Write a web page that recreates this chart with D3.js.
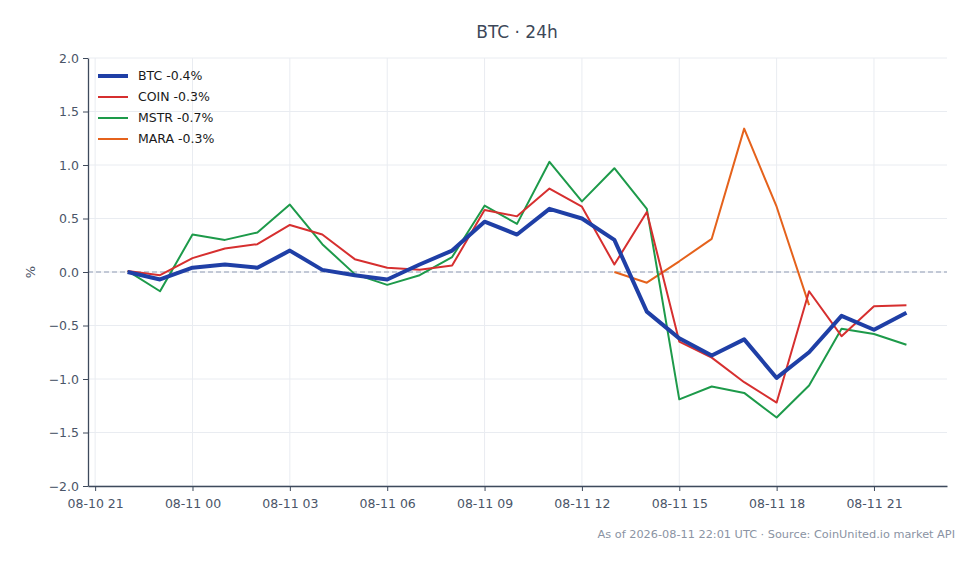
<!DOCTYPE html>
<html>
<head>
<meta charset="utf-8">
<script src="https://cdn.jsdelivr.net/npm/d3@7"></script>
<style>
  body { margin: 0; background: #fff; }
  svg { font-family: "DejaVu Sans", sans-serif; }
</style>
</head>
<body>
<div id="chart"></div>
<script>
// hourly points, 08-10 22:00 .. 08-11 22:00 UTC
var startHour = Date.UTC(2026, 7, 10, 22);
var hoursBTC = d3.range(25);
var btcVals = [0.0, -0.07, 0.04, 0.07, 0.04, 0.2, 0.02, -0.03, -0.07, 0.07, 0.2, 0.47, 0.35,
  0.59, 0.5, 0.3, -0.37, -0.62, -0.78, -0.63, -0.99, -0.75, -0.41, -0.54, -0.38];
var coinVals = [0.01, -0.03, 0.13, 0.22, 0.26, 0.44, 0.35, 0.12, 0.04, 0.02, 0.06, 0.58, 0.52,
  0.78, 0.61, 0.07, 0.56, -0.65, -0.8, -1.03, -1.22, -0.18, -0.6, -0.32, -0.31];
var mstrVals = [0.01, -0.18, 0.35, 0.3, 0.37, 0.63, 0.26, -0.02, -0.12, -0.03, 0.14, 0.62, 0.45,
  1.03, 0.66, 0.97, 0.59, -1.19, -1.07, -1.13, -1.36, -1.06, -0.53, -0.58, -0.68];
// MARA only trades 13:00 .. 19:00
var maraHours = [15, 16, 17, 18, 19, 20, 21];
var maraVals = [0.0, -0.1, 0.1, 0.31, 1.34, 0.61, -0.31];

var seriesNames = ['BTC -0.4%', 'COIN -0.3%', 'MSTR -0.7%', 'MARA -0.3%'];
var seriesColors = ['#1f3fa6', '#d62f2f', '#1d9a4a', '#e5621c'];
var seriesWidths = [4, 2, 2, 2];
var yTicks = [-2, -1.5, -1, -0.5, 0, 0.5, 1, 1.5, 2];

var w = 979,
h = 564,
m = { top: 58, right: 32, bottom: 78, left: 88 };

var toDate = function (k) { return new Date(startHour + k * 3600e3); };

var series = [
  hoursBTC.map((k, i) => ({ t: toDate(k), v: btcVals[i] })),
  hoursBTC.map((k, i) => ({ t: toDate(k), v: coinVals[i] })),
  hoursBTC.map((k, i) => ({ t: toDate(k), v: mstrVals[i] })),
  maraHours.map((k, i) => ({ t: toDate(k), v: maraVals[i] }))
];

var svg = d3.
select('#chart').
append('svg').
attr('width', w).
attr('height', h);

var x = d3.
scaleUtc().
domain([new Date(startHour - 1.22 * 3600e3), new Date(startHour + 25.25 * 3600e3)]).
range([m.left, w - m.right]);

var y = d3.
scaleLinear().
domain([-2, 2]).
range([h - m.bottom, m.top]);

var xTicks = d3.range(9).map(i => new Date(startHour + (i * 3 - 1) * 3600e3));

// grid
svg.append('g').
selectAll('line').
data(xTicks).
enter().
append('line').
attr('x1', d => x(d)).
attr('x2', d => x(d)).
attr('y1', m.top).
attr('y2', h - m.bottom).
attr('stroke', '#e9ecf1');

svg.append('g').
selectAll('line').
data(yTicks).
enter().
append('line').
attr('x1', m.left).
attr('x2', w - m.right).
attr('y1', d => y(d)).
attr('y2', d => y(d)).
attr('stroke', '#e9ecf1');

// zero line
svg.append('line').
attr('x1', m.left).
attr('x2', w - m.right).
attr('y1', y(0)).
attr('y2', y(0)).
attr('stroke', '#8f9cb3').
attr('stroke-width', 1.2).
attr('stroke-dasharray', '5,3');

// axes
var fmt = d3.utcFormat('%m-%d %H');
var xAxis = svg.append('g').
attr('transform', 'translate(0,' + (h - m.bottom) + ')').
call(d3.axisBottom(x).tickValues(xTicks).tickFormat(fmt).tickSize(5).tickSizeOuter(0));

var yAxis = svg.append('g').
attr('transform', 'translate(' + m.left + ',0)').
call(d3.axisLeft(y).tickValues(yTicks).tickFormat(d3.format('.1f')).tickSize(5).tickSizeOuter(0));

[xAxis, yAxis].forEach(function (a) {
  a.select('.domain').attr('stroke', '#3e4a5c').attr('stroke-width', 1.3);
  a.selectAll('.tick line').attr('stroke', '#3e4a5c');
  a.selectAll('.tick text').
  attr('fill', '#4a5568').
  style('font-size', '12.5px').
  style('font-family', '"DejaVu Sans", sans-serif');
});
xAxis.selectAll('.tick text').attr('dy', '1.1em');
yAxis.selectAll('.tick text').attr('x', -9);

svg.append('text').
attr('transform', 'translate(35,' + y(0) + ') rotate(-90)').
attr('text-anchor', 'middle').
attr('fill', '#4a5568').
style('font-size', '13px').
text('%');

// lines
var line = d3.
line().
x(d => x(d.t)).
y(d => y(d.v));

svg.append('g').
selectAll('path').
data(series.slice().reverse()).
enter().
append('path').
attr('d', d => line(d)).
attr('fill', 'none').
attr('stroke', (d, i) => seriesColors[3 - i]).
attr('stroke-width', (d, i) => seriesWidths[3 - i]).
attr('stroke-linejoin', 'round');

// legend
var legend = svg.append('g').
attr('transform', 'translate(98,76)');

var items = legend.selectAll('g').
data(seriesNames).
enter().
append('g').
attr('transform', (d, i) => 'translate(0,' + i * 21 + ')');

items.append('line').
attr('x1', 0).
attr('x2', 30).
attr('stroke', (d, i) => seriesColors[i]).
attr('stroke-width', (d, i) => seriesWidths[i]);

items.append('text').
attr('x', 40).
attr('dy', '0.35em').
attr('fill', '#1a1a1a').
style('font-size', '12.5px').
text(d => d);

// title and footer
svg.append('text').
attr('x', 517).
attr('y', 38).
attr('text-anchor', 'middle').
attr('fill', '#3d4859').
style('font-size', '17px').
text('BTC \u00b7 24h');

svg.append('text').
attr('x', 955).
attr('y', 538).
attr('text-anchor', 'end').
attr('fill', '#8a93a3').
style('font-size', '11.3px').
text('As of 2026-08-11 22:01 UTC \u00b7 Source: CoinUnited.io market API');
</script>
</body>
</html>
